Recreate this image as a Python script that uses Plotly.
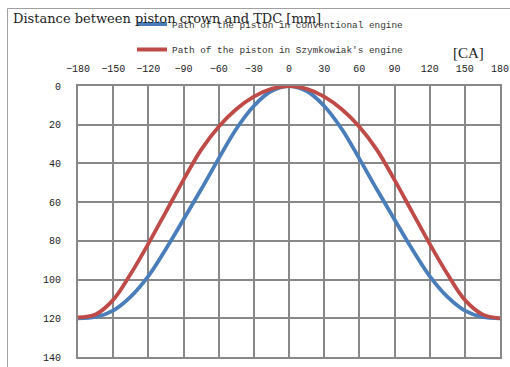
import plotly.graph_objects as go

angles = [-180, -165, -150, -135, -120, -105, -90, -75, -60, -45, -30, -15, 0,
          15, 30, 45, 60, 75, 90, 105, 120, 135, 150, 165, 180]
conventional = [120, 119.3, 116.0, 108.8, 98.2, 84.2, 69.0, 53.5, 37.5, 22.2, 10.3, 2.6, 0,
                2.6, 10.3, 22.2, 37.5, 53.5, 69.0, 84.2, 98.2, 108.8, 116.0, 119.3, 120]
szymkowiak = [119.5, 118.0, 110.5, 97.0, 81.5, 65.0, 48.5, 33.0, 21.0, 12.0, 5.5, 1.5, 0,
              1.5, 5.5, 12.0, 21.0, 33.0, 48.5, 65.0, 81.5, 97.0, 110.5, 118.0, 120]
x_ticks = [-180, -150, -120, -90, -60, -30, 0, 30, 60, 90, 120, 150, 180]
y_ticks = [0, 20, 40, 60, 80, 100, 120, 140]

fig = go.Figure()
fig.add_trace(go.Scatter(x=angles, y=conventional, mode="lines",
                         name="Path of the piston in conventional engine",
                         line=dict(color="#4A7EBB", width=3.8, shape="spline"),
                         legendgroup="a"))
fig.add_trace(go.Scatter(x=angles, y=szymkowiak, mode="lines",
                         name="Path of the piston in Szymkowiak's engine",
                         line=dict(color="#BE4B48", width=3.8, shape="spline"),
                         legendgroup="b"))

grid = "#888888"
W, H = 510, 367
L, T, PW, PH = 78, 86, 422, 271


def px(x):
    return (x - L) / PW


def py(y):
    return 1 + (T - y) / PH


fig.update_layout(
    width=W, height=H,
    margin=dict(l=L, r=W - L - PW, t=T, b=H - T - PH, autoexpand=False),
    paper_bgcolor="white", plot_bgcolor="white",
    showlegend=True,
    legend=dict(x=px(132), y=py(9.5), xanchor="left", yanchor="top",
                font=dict(family="Liberation Mono", size=9.4, color="#333333"),
                bgcolor="rgba(0,0,0,0)", tracegroupgap=6.5, traceorder="grouped",
                itemwidth=30),
    xaxis=dict(range=[-180, 180], tickvals=x_ticks, side="top",
               showgrid=True, gridcolor=grid, gridwidth=2,
               showline=True, linecolor=grid, linewidth=2, mirror=True,
               zeroline=False, ticks="", ticklabelstandoff=8,
               ticklabeloverflow="allow",
               tickfont=dict(family="Liberation Mono", size=10, color="#222222")),
    yaxis=dict(range=[140, 0], tickvals=y_ticks,
               showgrid=True, gridcolor=grid, gridwidth=2,
               showline=True, linecolor=grid, linewidth=2, mirror=True,
               zeroline=False, ticks="", ticklabelstandoff=13,
               ticklabeloverflow="allow",
               tickfont=dict(family="Liberation Mono", size=10, color="#222222")),
    shapes=[dict(type="rect", xref="paper", yref="paper",
                 x0=px(7.5), x1=1.2, y0=-0.2, y1=py(8.5),
                 line=dict(color="#A0A0A0", width=1), layer="below")],
    annotations=[
        dict(text="Distance between piston crown and TDC [mm]", xref="paper", yref="paper",
             x=px(11), y=py(9), xanchor="left", yanchor="top",
             showarrow=False, font=dict(family="DejaVu Serif", size=13, color="#222222")),
        dict(text="[CA]", xref="paper", yref="paper",
             x=px(468), y=py(53), xanchor="center", yanchor="middle",
             showarrow=False, font=dict(family="Liberation Serif", size=15, color="#222222")),
    ],
)
fig.write_html("out.html", config={"displayModeBar": False},
               post_script="document.body.style.margin='0';")
